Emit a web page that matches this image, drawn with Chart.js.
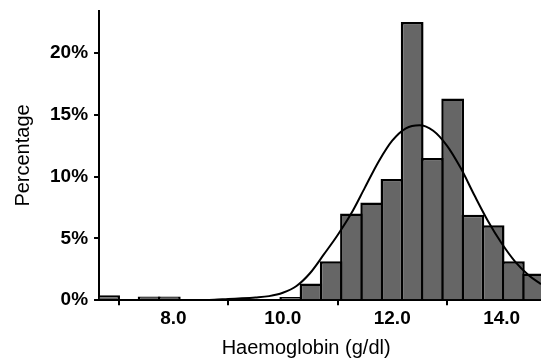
<!DOCTYPE html>
<html lang="en">
<head>
    <meta charset="UTF-8">
    <title>Haemoglobin histogram</title>
    <script src="https://cdn.jsdelivr.net/npm/chart.js"></script>
    <style>
        body {
            margin: 0;
            background: #ffffff;
            overflow: hidden;
        }

        .chart-box {
            width: 541px;
            height: 362px;
            position: relative;
        }
    </style>
</head>
<body>
    <div class="chart-box">
        <canvas id="hbChart"></canvas>
    </div>

    <script>
        // Histogram bins (centre of each 0.37 g/dl bin) and percentage per bin
        const binCentres = [6.815, 7.185, 7.555, 7.925, 8.295, 8.665, 9.035, 9.405, 9.775, 10.145, 10.515,
            10.885, 11.255, 11.625, 11.995, 12.365, 12.735, 13.105, 13.475, 13.845, 14.215, 14.585];
        const binPercent = [0.4, 0, 0.3, 0.3, 0, 0, 0, 0, 0, 0.25, 1.35,
            3.15, 7.0, 7.9, 9.8, 22.5, 11.5, 16.3, 6.9, 6.05, 3.15, 2.15];

        // Fitted normal curve
        const curveX = [6.64, 7.5, 8.25, 8.75, 9.0, 9.25, 9.5, 9.75, 10.0, 10.25, 10.5, 10.75, 11.0, 11.25,
            11.5, 11.75, 12.0, 12.25, 12.5, 12.75, 13.0, 13.25, 13.5, 13.75, 14.0, 14.25, 14.5, 14.72];
        const curveY = [0, 0, 0, 0.03, 0.1, 0.15, 0.22, 0.33, 0.6, 1.15, 2.2, 3.7, 5.25, 7.0,
            9.1, 11.2, 12.9, 13.9, 14.15, 13.7, 12.5, 10.7, 8.5, 6.4, 4.6, 3.1, 2.0, 1.3];

        // Axis ticks
        const xTicks = [8, 10, 12, 14];
        const yTicks = [0, 5, 10, 15, 20];

        const fontName = "'Liberation Sans', Arial, sans-serif";
        const titleFont = { family: fontName, size: 20 };

        const ctx = document.getElementById('hbChart').getContext('2d');
        const hbChart = new Chart(ctx, {
            type: 'bar',
            data: {
                datasets: [
                    {
                        type: 'line',
                        data: curveX.map((x, i) => ({ x: x, y: curveY[i] })),
                        borderColor: '#000000',
                        borderWidth: 2,
                        pointRadius: 0,
                        fill: false,
                        cubicInterpolationMode: 'monotone',
                        order: 0
                    },
                    {
                        type: 'bar',
                        data: binCentres.map((x, i) => ({ x: x, y: binPercent[i] })),
                        backgroundColor: '#666666',
                        borderColor: '#000000',
                        borderWidth: 2.5,
                        categoryPercentage: 1,
                        barPercentage: 1.124,
                        order: 1
                    }
                ]
            },
            options: {
                responsive: true,
                maintainAspectRatio: false,
                animation: false,
                layout: {
                    padding: { top: 10, right: 0, bottom: 0, left: 0 }
                },
                plugins: {
                    legend: { display: false },
                    tooltip: { enabled: false }
                },
                scales: {
                    x: {
                        type: 'linear',
                        min: 6.64,
                        max: 14.72,
                        offset: false,
                        afterBuildTicks: scale => {
                            scale.ticks = xTicks.map(v => ({ value: v }));
                        },
                        border: { display: true, color: '#000000', width: 2 },
                        grid: {
                            drawOnChartArea: false,
                            drawTicks: true,
                            tickLength: 5,
                            color: '#000000',
                            lineWidth: 2
                        },
                        ticks: {
                            color: '#000000',
                            font: { family: fontName, size: 19, weight: 'bold' },
                            padding: 2,
                            maxRotation: 0,
                            callback: v => v.toFixed(1)
                        },
                        title: {
                            display: true,
                            // trailing spaces pull the centred title a little to the left, as in the original
                            text: 'Haemoglobin (g/dl)     ',
                            color: '#000000',
                            font: titleFont,
                            padding: { top: 4, bottom: 2 }
                        }
                    },
                    y: {
                        min: 0,
                        max: 23.4,
                        afterBuildTicks: scale => {
                            scale.ticks = yTicks.map(v => ({ value: v }));
                        },
                        border: { display: true, color: '#000000', width: 2 },
                        grid: {
                            drawOnChartArea: false,
                            drawTicks: true,
                            tickLength: 5,
                            color: '#000000',
                            lineWidth: 2
                        },
                        ticks: {
                            color: '#000000',
                            font: { family: fontName, size: 19, weight: 'bold', lineHeight: 0.5 },
                            padding: 6,
                            callback: v => v + '%'
                        },
                        title: {
                            display: true,
                            text: 'Percentage',
                            color: '#000000',
                            font: titleFont,
                            padding: { top: 11, bottom: 9 }
                        }
                    }
                }
            }
        });
    </script>
</body>
</html>
